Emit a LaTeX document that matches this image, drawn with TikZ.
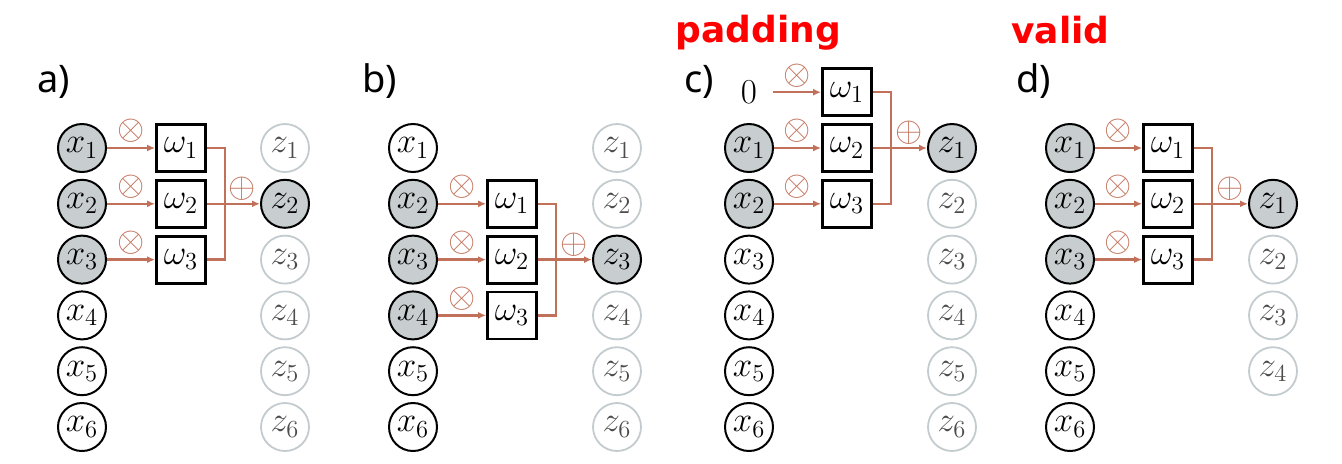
\RequirePackage{fix-cm}
\documentclass[tikz,border=0pt]{standalone}
\usepackage{fontspec}
\setsansfont{Noto Sans}
\newfontfamily\modefont{DejaVu Sans}
\usepackage{tikz}
\usetikzlibrary{arrows.meta, positioning, calc}
\definecolor{wirec}{RGB}{193,112,90}
\definecolor{cellgray}{RGB}{200,205,207}
\definecolor{ghost}{RGB}{196,203,206}

\begin{document}
\begin{tikzpicture}[
  x=0.5pt, y=-0.5pt,
  font=\fontsize{17.5}{21}\selectfont,
  xin/.style={circle, draw, line width=1pt, minimum size=24pt, inner sep=0pt},
  xon/.style={xin, fill=cellgray},
  zout/.style={circle, draw=ghost, line width=0.9pt, minimum size=24pt, inner sep=0pt, text=black!70},
  zon/.style={xon},
  zero/.style={circle, minimum size=24pt, inner sep=0pt},
  wbox/.style={draw, line width=1.4pt, minimum width=24.5pt, minimum height=23.5pt, inner sep=0pt},
  wire/.style={wirec, line width=1.2pt},
  arrow/.style={wire, -{Latex[length=4pt,width=3.5pt]}},
  op/.style={text=wirec, inner sep=0pt},
  tag/.style={anchor=base west, inner sep=0pt, font=\sffamily\fontsize{19}{23}\selectfont},
  mode/.style={anchor=base west, inner sep=0pt, text=red, font=\modefont\bfseries\fontsize{18}{22}\selectfont},
]
\useasboundingbox (0,0) rectangle (1342,463);

% Panel titles
\node[tag] (ta) at (37,92)   {a)};
\node[tag] (tb) at (362,92)  {b)};
\node[tag] (tc) at (684,92)  {c)};
\node[tag] (td) at (1016,92) {d)};
\node[mode] (pad) at (675,42)  {padding};
\node[mode] (val) at (1011,43) {valid};

% a) output z2
\foreach \i/\s in {1/xon, 2/xon, 3/xon, 4/xin, 5/xin, 6/xin} {
  \node[\s] (xa\i) at (82,  {148+55.8*(\i-1)}) {$x_{\i}$};
}
\foreach \i/\s in {1/zout, 2/zon, 3/zout, 4/zout, 5/zout, 6/zout} {
  \node[\s] (za\i) at (285, {148+55.8*(\i-1)}) {$z_{\i}$};
}
\node[wbox] (wa1) at (181,148)   {$\omega_1$};
\node[wbox] (wa2) at (181,203.8) {$\omega_2$};
\node[wbox] (wa3) at (181,259.6) {$\omega_3$};

% b) output z3
\foreach \i/\s in {1/xin, 2/xon, 3/xon, 4/xon, 5/xin, 6/xin} {
  \node[\s] (xb\i) at (413, {148+55.8*(\i-1)}) {$x_{\i}$};
}
\foreach \i/\s in {1/zout, 2/zout, 3/zon, 4/zout, 5/zout, 6/zout} {
  \node[\s] (zb\i) at (617, {148+55.8*(\i-1)}) {$z_{\i}$};
}
\node[wbox] (wb1) at (512,203.8) {$\omega_1$};
\node[wbox] (wb2) at (512,259.6) {$\omega_2$};
\node[wbox] (wb3) at (512,315.4) {$\omega_3$};

% c) padding, output z1
\node[zero] (xc0) at (749,92.2) {$0$};
\foreach \i/\s in {1/xon, 2/xon, 3/xin, 4/xin, 5/xin, 6/xin} {
  \node[\s] (xc\i) at (749, {148+55.8*(\i-1)}) {$x_{\i}$};
}
\foreach \i/\s in {1/zon, 2/zout, 3/zout, 4/zout, 5/zout, 6/zout} {
  \node[\s] (zc\i) at (952, {148+55.8*(\i-1)}) {$z_{\i}$};
}
\node[wbox] (wc1) at (847,92.2)  {$\omega_1$};
\node[wbox] (wc2) at (847,148)   {$\omega_2$};
\node[wbox] (wc3) at (847,203.8) {$\omega_3$};

% d) valid, output z1
\foreach \i/\s in {1/xon, 2/xon, 3/xon, 4/xin, 5/xin, 6/xin} {
  \node[\s] (xd\i) at (1070, {148+55.8*(\i-1)}) {$x_{\i}$};
}
\foreach \i/\s in {1/zon, 2/zout, 3/zout, 4/zout} {
  \node[\s] (zd\i) at (1273, {203.8+55.8*(\i-1)}) {$z_{\i}$};
}
\node[wbox] (wd1) at (1168,148)   {$\omega_1$};
\node[wbox] (wd2) at (1168,203.8) {$\omega_2$};
\node[wbox] (wd3) at (1168,259.6) {$\omega_3$};

% Products
\foreach \i in {1,2,3} {
  \draw[arrow] (xa\i) -- node[op, above=2pt] {$\otimes$} (wa\i);
}
\foreach \i/\j in {2/1, 3/2, 4/3} {
  \draw[arrow] (xb\i) -- node[op, above=2pt] {$\otimes$} (wb\j);
}
\foreach \i/\j in {0/1, 1/2, 2/3} {
  \draw[arrow] (xc\i) -- node[op, above=2pt] {$\otimes$} (wc\j);
}
\foreach \i in {1,2,3} {
  \draw[arrow] (xd\i) -- node[op, above=2pt] {$\otimes$} (wd\i);
}

% Sums
\coordinate (ja) at ([xshift=9pt]wa2.east);
\coordinate (jb) at ([xshift=9pt]wb2.east);
\coordinate (jc) at ([xshift=9pt]wc2.east);
\coordinate (jd) at ([xshift=9pt]wd2.east);
\draw[wire] (wa1.east) -| (ja) |- (wa3.east);
\draw[wire] (wa2.east) -- (ja);
\draw[arrow] (ja) -- node[op, above=1pt] {$\oplus$} (za2);
\draw[wire] (wb1.east) -| (jb) |- (wb3.east);
\draw[wire] (wb2.east) -- (jb);
\draw[arrow] (jb) -- node[op, above=1pt] {$\oplus$} (zb3);
\draw[wire] (wc1.east) -| (jc) |- (wc3.east);
\draw[wire] (wc2.east) -- (jc);
\draw[arrow] (jc) -- node[op, above=1pt] {$\oplus$} (zc1);
\draw[wire] (wd1.east) -| (jd) |- (wd3.east);
\draw[wire] (wd2.east) -- (jd);
\draw[arrow] (jd) -- node[op, above=1pt] {$\oplus$} (zd1);
\end{tikzpicture}
\end{document}
